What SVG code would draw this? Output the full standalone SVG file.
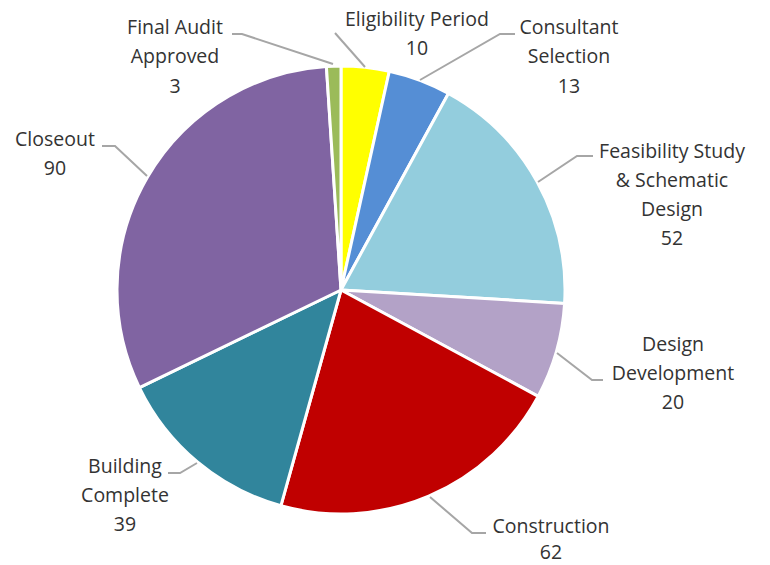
<svg xmlns="http://www.w3.org/2000/svg" width="770" height="565" viewBox="0 0 770 565">
<style>
.sl{stroke:#fff;stroke-width:3;stroke-linejoin:round}
.ld{fill:none;stroke:#A6A6A6;stroke-width:2}
text{font-family:"Open Sans","Liberation Sans",sans-serif;font-size:19.5px;fill:#333333;text-anchor:middle}
</style>
<rect width="770" height="565" fill="#fff"/>
<g id="slices">
<g id="eligibility"><path class="sl" fill="#FFFF00" d="M341,290 L341,66 A224,224 0 0,1 389.32,71.27 Z"/></g>
<g id="consultant"><path class="sl" fill="#558ED5" d="M341,290 L389.32,71.27 A224,224 0 0,1 448.40,93.43 Z"/></g>
<g id="feasibility"><path class="sl" fill="#93CDDD" d="M341,290 L448.40,93.43 A224,224 0 0,1 564.60,303.39 Z"/></g>
<g id="design"><path class="sl" fill="#B3A2C7" d="M341,290 L564.60,303.39 A224,224 0 0,1 538.15,396.34 Z"/></g>
<g id="construction"><path class="sl" fill="#C00000" d="M341,290 L538.15,396.34 A224,224 0 0,1 280.88,505.78 Z"/></g>
<g id="building"><path class="sl" fill="#31859C" d="M341,290 L280.88,505.78 A224,224 0 0,1 139.40,387.65 Z"/></g>
<g id="closeout"><path class="sl" fill="#8064A2" d="M341,290 L139.40,387.65 A224,224 0 0,1 326.40,66.48 Z"/></g>
<g id="finalaudit"><path class="sl" fill="#9BBB59" d="M341,290 L326.40,66.48 A224,224 0 0,1 341,66 Z"/></g>
</g>
<g id="connectors">
<polyline class="ld" points="232,34 242,34 333,64"/>
<polyline class="ld" points="335,33 365,67"/>
<polyline class="ld" points="515,34 500,34 420,80"/>
<polyline class="ld" points="593,156 577,156 538,182"/>
<polyline class="ld" points="603,380 592,380 557,353"/>
<polyline class="ld" points="486,533 472,533 430,497"/>
<polyline class="ld" points="168,473 180,473 197,463"/>
<polyline class="ld" points="102,146 115,146 147,176"/>
</g>
<g id="labels">
<g id="lbl-final"><text x="175" y="34">Final Audit</text><text x="175" y="63">Approved</text><text x="175" y="93">3</text></g>
<g id="lbl-elig"><text x="417" y="26">Eligibility  Period</text><text x="417" y="55">10</text></g>
<g id="lbl-cons"><text x="569" y="34">Consultant</text><text x="569" y="63">Selection</text><text x="569" y="93">13</text></g>
<g id="lbl-feas"><text x="672" y="158">Feasibility Study</text><text x="672" y="187">&amp; Schematic</text><text x="672" y="216">Design</text><text x="672" y="245">52</text></g>
<g id="lbl-design"><text x="673" y="351">Design</text><text x="673" y="380">Development</text><text x="673" y="409">20</text></g>
<g id="lbl-constr"><text x="551" y="533">Construction</text><text x="551" y="559">62</text></g>
<g id="lbl-build"><text x="125" y="473">Building</text><text x="125" y="502">Complete</text><text x="125" y="531">39</text></g>
<g id="lbl-close"><text x="55" y="146">Closeout</text><text x="55" y="175">90</text></g>
</g>
</svg>
